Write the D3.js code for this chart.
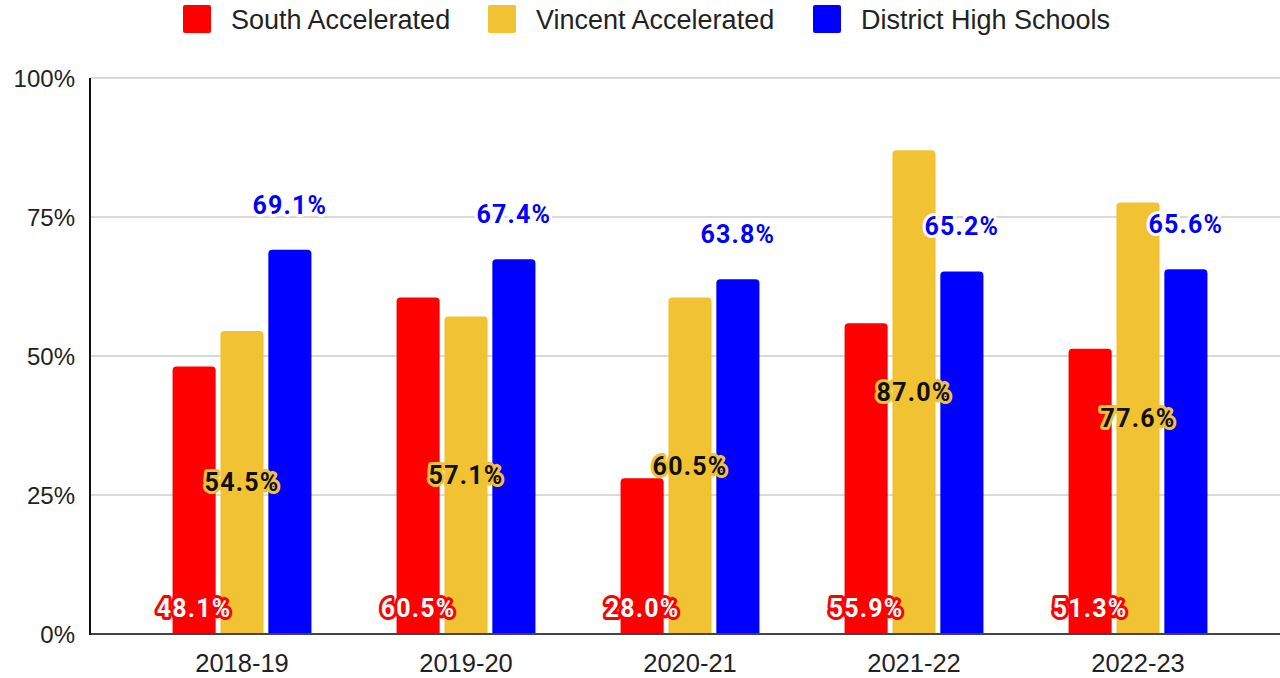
<!DOCTYPE html>
<html><head><meta charset="utf-8">
<script src="https://cdn.jsdelivr.net/npm/d3@7"></script>
<style>html,body{margin:0;padding:0;background:#fff;}svg{display:block;}</style>
</head><body>
<svg id="chart" width="1280" height="678"></svg>
<script>
const years = ["2018-19","2019-20","2020-21","2021-22","2022-23"];
const seriesNames = ["South Accelerated","Vincent Accelerated","District High Schools"];
const southValues = [48.1, 60.5, 28.0, 55.9, 51.3];
const vincentValues = [54.5, 57.1, 60.5, 87.0, 77.6];
const districtValues = [69.1, 67.4, 63.8, 65.2, 65.6];
const yTicks = [0, 25, 50, 75, 100];
const colors = ["#ff0000", "#f1c232", "#0000ff"];

(function () {
const allValues = [southValues, vincentValues, districtValues];
const svg = d3.select("#chart");
const pLeft = 90, pRight = 1280, pTop = 78, pBottom = 634;

const y = d3.scaleLinear().domain([0, 100]).range([pBottom, pTop]);
const x0 = d3.scaleBand().domain(years).range([130, 1250]).paddingInner(0.38).paddingOuter(0.19);
const x1 = d3.scaleBand().domain(seriesNames).range([0, x0.bandwidth()]).paddingInner(0.1);

// gridlines
svg.append("g").selectAll("line").data(yTicks.filter(t => t > 0)).join("line")
  .attr("x1", pLeft).attr("x2", pRight)
  .attr("y1", d => y(d)).attr("y2", d => y(d))
  .attr("stroke", "#cccccc").attr("stroke-width", 1.5);

// y tick labels
svg.append("g").selectAll("text").data(yTicks).join("text")
  .attr("x", 75).attr("y", d => y(d)).attr("dy", "0.36em")
  .attr("text-anchor", "end")
  .attr("font-family", "Liberation Sans, Arial, sans-serif")
  .attr("font-size", 24).attr("fill", "#222")
  .text(d => d + "%");

// bars
function topRounded(xp, yp, w, h, r) {
  r = Math.min(r, h, w / 2);
  return `M${xp},${yp + h}V${yp + r}Q${xp},${yp} ${xp + r},${yp}H${xp + w - r}Q${xp + w},${yp} ${xp + w},${yp + r}V${yp + h}Z`;
}
const barData = [];
years.forEach((yr, i) => {
  seriesNames.forEach((s, j) => {
    barData.push({year: yr, series: s, j: j, value: allValues[j][i]});
  });
});
svg.append("g").selectAll("path").data(barData).join("path")
  .attr("d", d => {
    const xp = x0(d.year) + x1(d.series);
    const yp = y(d.value);
    return topRounded(xp, yp, x1.bandwidth(), pBottom - yp, 4);
  })
  .attr("fill", d => colors[d.j]);

// baseline
svg.append("line").attr("x1", pLeft).attr("x2", pRight).attr("y1", pBottom).attr("y2", pBottom)
  .attr("stroke", "#444").attr("stroke-width", 2);
// y axis line
svg.append("line").attr("x1", pLeft).attr("x2", pLeft).attr("y1", pTop).attr("y2", pBottom + 1)
  .attr("stroke", "#111").attr("stroke-width", 2);

// x labels
svg.append("g").selectAll("text").data(years).join("text")
  .attr("x", d => x0(d) + x0.bandwidth() / 2).attr("y", 672)
  .attr("text-anchor", "middle")
  .attr("font-family", "Liberation Sans, Arial, sans-serif")
  .attr("font-size", 25.5).attr("fill", "#222")
  .text(d => d);

// data labels
const labelStyle = [
  {fill: "#ffffff", stroke: "#ff0000"},
  {fill: "#111111", stroke: "#f1c232"},
  {fill: "#0000ff", stroke: "#ffffff"}
];
function labelY(d) {
  if (d.j === 0) return pBottom - 17;
  if (d.j === 1) return (y(d.value) + pBottom) / 2 + 9;
  return y(d.value) - 36;
}
svg.append("g").selectAll("text").data(barData).join("text")
  .attr("x", d => x0(d.year) + x1(d.series) + x1.bandwidth() / 2)
  .attr("y", d => labelY(d))
  .attr("text-anchor", "middle")
  .attr("font-family", "Roboto, sans-serif")
  .attr("font-weight", 700)
  .attr("font-size", 25)
  .attr("letter-spacing", 1.2)
  .attr("fill", d => labelStyle[d.j].fill)
  .attr("stroke", d => labelStyle[d.j].stroke)
  .attr("stroke-width", 6)
  .attr("stroke-linejoin", "round")
  .attr("paint-order", "stroke")
  .text(d => d.value.toFixed(1) + "%");

// legend
const legendX = [183, 488, 813];
const lg = svg.append("g").selectAll("g").data(seriesNames).join("g")
  .attr("transform", (d, i) => `translate(${legendX[i]},5)`);
lg.append("rect").attr("width", 28).attr("height", 28).attr("rx", 2)
  .attr("fill", (d, i) => colors[i]);
lg.append("text").attr("x", 48).attr("y", 24)
  .attr("font-family", "Liberation Sans, Arial, sans-serif")
  .attr("font-size", 27).attr("fill", "#222")
  .text(d => d);
})();
</script>
</body></html>
